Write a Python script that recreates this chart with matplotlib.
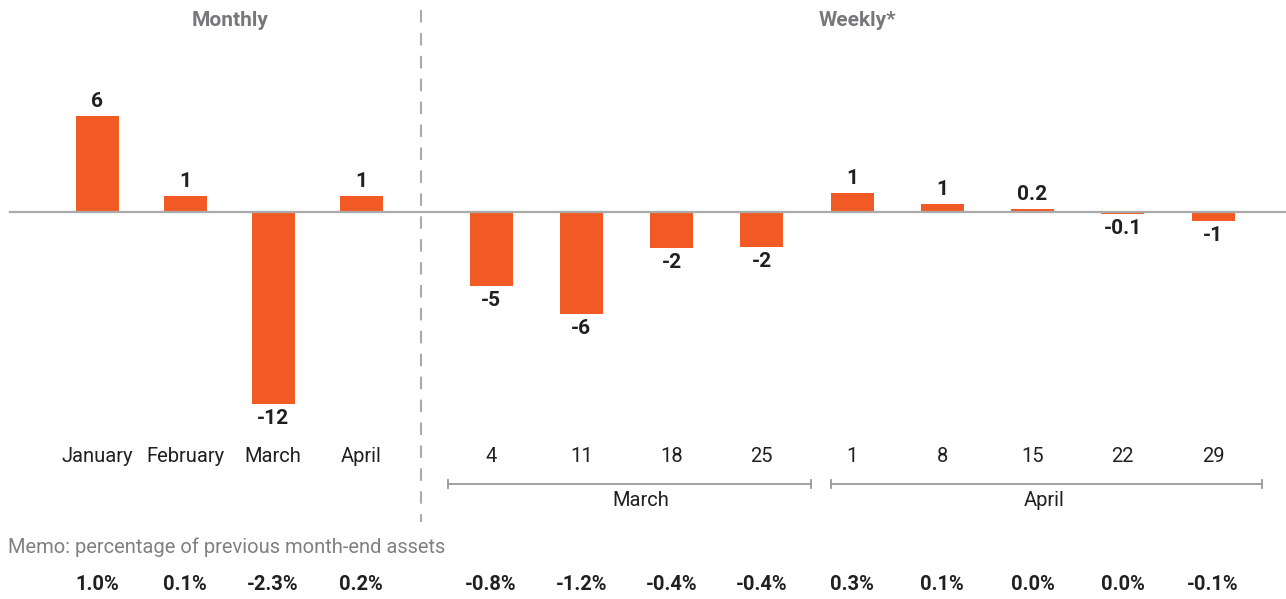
import numpy as np
import matplotlib.pyplot as plt

plt.rcParams['font.family'] = ['Roboto', 'DejaVu Sans']

# data
months = ["January", "February", "March", "April"]
monthly_vals = [6.0, 1.0, -12.0, 1.0]
monthly_labels = ["6", "1", "-12", "1"]
monthly_memo = ["1.0%", "0.1%", "-2.3%", "0.2%"]

weeks = ["4", "11", "18", "25", "1", "8", "15", "22", "29"]
weekly_vals = [-4.6, -6.4, -2.25, -2.2, 1.2, 0.5, 0.2, -0.1, -0.55]
weekly_labels = ["-5", "-6", "-2", "-2", "1", "1", "0.2", "-0.1", "-1"]
weekly_memo = ["-0.8%", "-1.2%", "-0.4%", "-0.4%", "0.3%", "0.1%", "0.0%", "0.0%", "-0.1%"]

bar_color = "#F15A24"
dark = "#231F20"
grey = "#808080"

# layout (pixel-like coordinates, baseline at y=212, 16 px per unit)
W, H = 1286, 599
base_px, unit_px = 212, 16.0


def py(y_px):
    return (base_px - y_px) / unit_px


mx = 97 + 88.0 * np.arange(len(months))
wx = 491 + 90.25 * np.arange(len(weeks))

fig = plt.figure(figsize=(W / 100, H / 100), dpi=100)
ax = fig.add_axes([0, 0, 1, 1])
ax.set_xlim(0, W)
ax.set_ylim(py(H), py(0))
ax.axis("off")

xs = np.concatenate([mx, wx])
vals = monthly_vals + weekly_vals
labels = monthly_labels + weekly_labels
memos = monthly_memo + weekly_memo
cats = months + weeks

ax.bar(xs, vals, width=43, color=bar_color, zorder=2)
ax.plot([10, W], [0, 0], color="#AAAAAA", lw=1.6, zorder=3)

off = 5 / unit_px
for x, v, lab in zip(xs, vals, labels):
    if v >= 0:
        ax.text(x, v + off, lab, ha="center", va="bottom", fontsize=15,
                fontweight="bold", color=dark)
    else:
        ax.text(x, v - off, lab, ha="center", va="top", fontsize=15,
                fontweight="bold", color=dark)

for x, c in zip(xs, cats):
    ax.text(x, py(457), c, ha="center", va="center", fontsize=14.5, color=dark)

for x, m in zip(xs, memos):
    ax.text(x, py(584), m, ha="center", va="center", fontsize=14.5,
            fontweight="bold", color=dark)

# separator
ax.plot([421, 421], [py(10), py(522)], color="#AAAAAA", lw=1.5,
        dashes=(6, 5), zorder=1)

# section titles
ax.text(230, py(20), "Monthly", ha="center", va="center", fontsize=15,
        fontweight="bold", color="#77787B")
ax.text(857, py(20), "Weekly*", ha="center", va="center", fontsize=15,
        fontweight="bold", color="#77787B")

# month brackets under weekly axis
for x0, x1, xl, name in [(448, 811, 641, "March"), (831, 1262, 1044, "April")]:
    yb = py(484)
    ax.plot([x0, x1], [yb, yb], color="#999999", lw=1.3)
    for xe in (x0, x1):
        ax.plot([xe, xe], [yb - 4 / unit_px, yb + 4 / unit_px], color="#999999", lw=1.3)
    ax.text(xl, py(501), name, ha="center", va="center",
            fontsize=14.5, color=dark)

ax.text(8, py(547), "Memo: percentage of previous month-end assets", ha="left",
        va="center", fontsize=14.5, color=grey)

fig.savefig("out.png", dpi=100)
